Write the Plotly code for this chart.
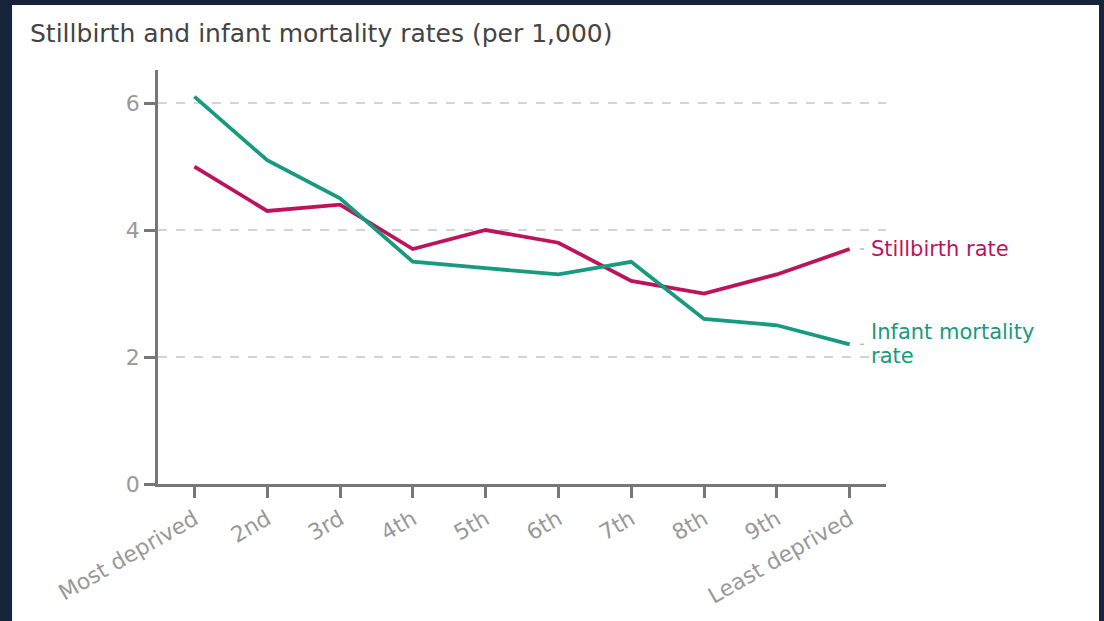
import plotly.graph_objects as go

categories = ["Most deprived", "2nd", "3rd", "4th", "5th", "6th", "7th", "8th", "9th", "Least deprived"]
stillbirth = [5.0, 4.3, 4.4, 3.7, 4.0, 3.8, 3.2, 3.0, 3.3, 3.7]
infant = [6.1, 5.1, 4.5, 3.5, 3.4, 3.3, 3.5, 2.6, 2.5, 2.2]
label_lines = [["Stillbirth rate"], ["Infant mortality", "rate"]]
y_ticks = [0, 2, 4, 6]

PINK = "#bb145c"
TEAL = "#179a7f"
FONT = "DejaVu Sans"

x = list(range(len(categories)))
fig = go.Figure()
fig.add_trace(go.Scatter(x=x, y=stillbirth, mode="lines", line=dict(color=PINK, width=3.8), name="Stillbirth rate"))
fig.add_trace(go.Scatter(x=x, y=infant, mode="lines", line=dict(color=TEAL, width=3.8), name="Infant mortality rate"))

# white panel over dark page background
fig.add_shape(type="rect", xref="paper", yref="paper", x0=-0.2005, x1=1.2926, y0=-0.34, y1=1.157,
              fillcolor="white", line=dict(width=0), layer="below")

# end labels with small connector dashes
for vals, col, lines in [(stillbirth, PINK, label_lines[0]), (infant, TEAL, label_lines[1])]:
    yv = vals[-1]
    fig.add_shape(type="line", xref="x", yref="y", x0=9.14, x1=9.2, y0=yv, y1=yv,
                  line=dict(color="#bbbbbb", width=1.5))
    n = len(lines)
    for i, t in enumerate(lines):
        fig.add_annotation(x=9.27, y=yv, xref="x", yref="y", text=t, showarrow=False,
                           xanchor="left", yanchor="middle", yshift=(n - 1) * 12 - i * 24,
                           align="left", font=dict(family=FONT, size=21, color=col))

fig.update_layout(
    width=1104, height=621,
    margin=dict(l=158, r=218, t=70, b=137),
    paper_bgcolor="#15233b",
    plot_bgcolor="white",
    showlegend=False,
    font=dict(family=FONT, color="#999999"),
    title=dict(text="Stillbirth and infant mortality rates (per 1,000)", x=30/1104, xanchor="left",
               y=1 - 33/621, yanchor="middle", font=dict(family=FONT, size=25, color="#444444")),
)
fig.update_xaxes(
    range=[-0.5, 9.5], tickmode="array", tickvals=x, ticktext=categories, tickangle=-30,
    showgrid=False, zeroline=False, showline=True, linecolor="#777777", linewidth=2.5,
    ticks="outside", ticklen=11, tickwidth=2.5, tickcolor="#777777",
    tickfont=dict(family=FONT, size=22, color="#999999"),
)
fig.update_yaxes(
    range=[0, 6.52], tickmode="array", tickvals=y_ticks, showgrid=True, gridcolor="#d4d4d4",
    griddash="dash", gridwidth=1.5, zeroline=False, showline=True, linecolor="#777777", linewidth=2.5,
    ticks="outside", ticklen=11, tickwidth=2.5, tickcolor="#777777",
    tickfont=dict(family=FONT, size=22, color="#999999"),
)

fig.write_html("out.html", config={"displayModeBar": False},
               post_script="document.body.style.margin='0';document.body.style.background='#15233b';")
